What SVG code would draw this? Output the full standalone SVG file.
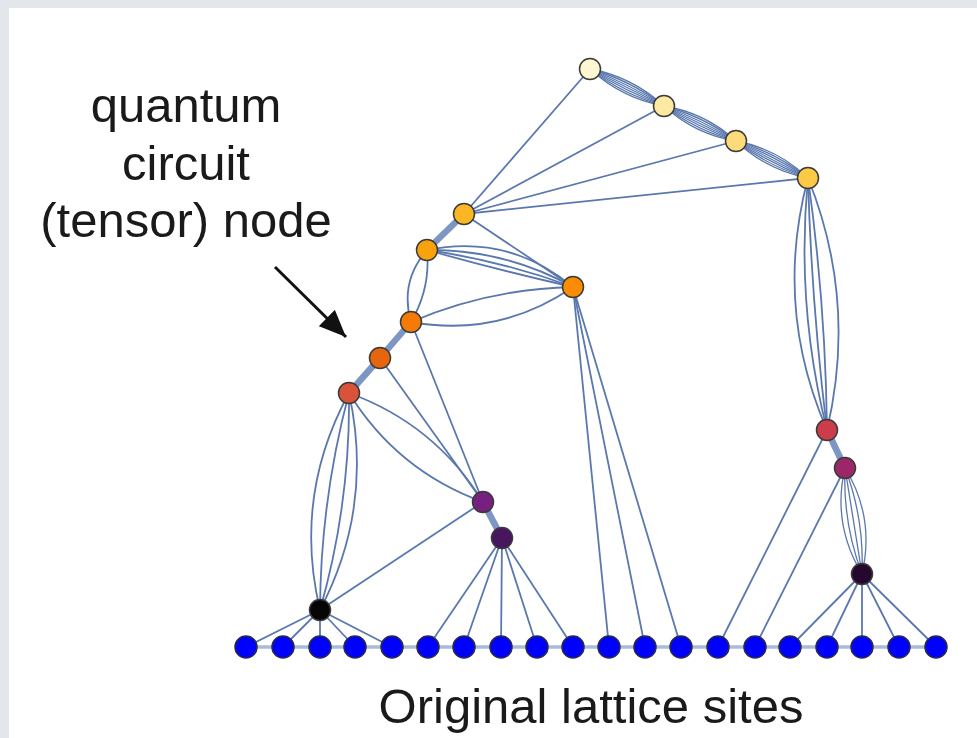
<svg xmlns="http://www.w3.org/2000/svg" width="977" height="738" viewBox="0 0 977 738">
<style>
.e{fill:none;stroke:#5a78ae;stroke-width:1.8}
.b{fill:none;stroke:#5a78ae;stroke-width:1.3}
.t{fill:none;stroke:#7d96c4;stroke-width:6.5;stroke-linecap:round}
.base{fill:none;stroke:#a9bbd8;stroke-width:3.5}
.n{stroke:#3a3a3a;stroke-width:1.5}
.s{fill:#0000ff;stroke:#2a2a4a;stroke-width:1.5}
.lbl{font-family:"Liberation Sans",Arial,sans-serif;font-size:49px;fill:#1a1a1a;text-anchor:middle}
</style>
<defs>
<marker id="ah" markerUnits="userSpaceOnUse" markerWidth="27" markerHeight="23" refX="27" refY="11.5" orient="auto">
<path d="M0,0 L27,11.5 L0,23 z" fill="#111"/>
</marker>
</defs>
<rect x="0" y="0" width="977" height="738" fill="#e3e6ea"/>
<rect x="9" y="8" width="968" height="730" fill="#ffffff"/>

<g id="connectors">
<line class="base" x1="246" y1="647" x2="936" y2="647"/>
<line class="t" x1="464" y1="214" x2="427" y2="250"/>
<line class="t" x1="411" y1="322" x2="380" y2="358"/>
<line class="t" x1="380" y1="358" x2="349" y2="393"/>
<line class="t" x1="483" y1="502" x2="502" y2="538"/>
<line class="t" x1="827" y1="430" x2="845" y2="468"/>
<path class="b" d="M590,69 Q621.6,98.2 664,106"/>
<path class="b" d="M590,69 Q623.4,94.7 664,106"/>
<path class="b" d="M590,69 Q625.2,91.1 664,106"/>
<path class="b" d="M590,69 L664,106"/>
<path class="b" d="M590,69 Q628.8,83.9 664,106"/>
<path class="b" d="M590,69 Q630.6,80.3 664,106"/>
<path class="b" d="M590,69 Q632.4,76.8 664,106"/>
<path class="b" d="M664,106 Q694.8,134.3 736,141"/>
<path class="b" d="M664,106 Q696.5,130.7 736,141"/>
<path class="b" d="M664,106 Q698.3,127.1 736,141"/>
<path class="b" d="M664,106 L736,141"/>
<path class="b" d="M664,106 Q701.7,119.9 736,141"/>
<path class="b" d="M664,106 Q703.5,116.3 736,141"/>
<path class="b" d="M664,106 Q705.2,112.7 736,141"/>
<path class="b" d="M736,141 Q766.5,170.2 808,178"/>
<path class="b" d="M736,141 Q768.3,166.6 808,178"/>
<path class="b" d="M736,141 Q770.2,163.1 808,178"/>
<path class="b" d="M736,141 L808,178"/>
<path class="b" d="M736,141 Q773.8,155.9 808,178"/>
<path class="b" d="M736,141 Q775.7,152.4 808,178"/>
<path class="b" d="M736,141 Q777.5,148.8 808,178"/>
<line class="e" x1="590" y1="69" x2="464" y2="214"/>
<line class="e" x1="664" y1="106" x2="464" y2="214"/>
<line class="e" x1="736" y1="141" x2="464" y2="214"/>
<line class="e" x1="808" y1="178" x2="464" y2="214"/>
<line class="e" x1="464" y1="214" x2="573" y2="287"/>
<path class="e" d="M427,250 Q508.9,233.6 573,287"/>
<path class="e" d="M427,250 Q504.9,249.1 573,287"/>
<path class="e" d="M427,250 Q502,260.7 573,287"/>
<path class="e" d="M427,250 Q499.5,270.4 573,287"/>
<path class="e" d="M427,250 Q399.5,281.7 411,322"/>
<path class="e" d="M427,250 Q430.7,288.6 411,322"/>
<path class="e" d="M411,322 Q488.6,288.9 573,287"/>
<path class="e" d="M411,322 Q499.2,337.8 573,287"/>
<line class="e" x1="573" y1="287" x2="609" y2="647"/>
<line class="e" x1="573" y1="287" x2="645" y2="647"/>
<line class="e" x1="573" y1="287" x2="681" y2="647"/>
<line class="e" x1="411" y1="322" x2="483" y2="502"/>
<line class="e" x1="380" y1="358" x2="483" y2="502"/>
<path class="e" d="M349,393 Q434.9,424.2 483,502"/>
<path class="e" d="M349,393 Q397.1,470.8 483,502"/>
<line class="e" x1="483" y1="502" x2="320" y2="610"/>
<path class="e" d="M349,393 Q292.9,496 320,610"/>
<path class="e" d="M349,393 Q320.6,499.7 320,610"/>
<path class="e" d="M349,393 Q350.4,503.6 320,610"/>
<path class="e" d="M349,393 Q374.1,506.8 320,610"/>
<line class="e" x1="320" y1="610" x2="246" y2="647"/>
<line class="e" x1="320" y1="610" x2="283" y2="647"/>
<line class="e" x1="320" y1="610" x2="320" y2="647"/>
<line class="e" x1="320" y1="610" x2="355" y2="647"/>
<line class="e" x1="320" y1="610" x2="392" y2="647"/>
<line class="e" x1="502" y1="538" x2="428" y2="647"/>
<line class="e" x1="502" y1="538" x2="464" y2="647"/>
<line class="e" x1="502" y1="538" x2="501" y2="647"/>
<line class="e" x1="502" y1="538" x2="537" y2="647"/>
<line class="e" x1="502" y1="538" x2="573" y2="647"/>
<path class="e" d="M808,178 Q773.6,307.3 827,430"/>
<path class="e" d="M808,178 Q795.6,305.7 827,430"/>
<path class="e" d="M808,178 Q811.5,304.5 827,430"/>
<path class="e" d="M808,178 Q825.5,303.4 827,430"/>
<path class="e" d="M808,178 Q857.4,301 827,430"/>
<line class="e" x1="827" y1="430" x2="718" y2="647"/>
<line class="e" x1="845" y1="468" x2="755" y2="647"/>
<path class="b" d="M845,468 Q831.8,524 862,574"/>
<path class="b" d="M845,468 Q842.6,522.3 862,574"/>
<path class="b" d="M845,468 L862,574"/>
<path class="b" d="M845,468 Q864.4,518.7 862,574"/>
<path class="b" d="M845,468 Q875.2,517 862,574"/>
<line class="e" x1="862" y1="574" x2="790" y2="647"/>
<line class="e" x1="862" y1="574" x2="827" y2="647"/>
<line class="e" x1="862" y1="574" x2="862" y2="647"/>
<line class="e" x1="862" y1="574" x2="899" y2="647"/>
<line class="e" x1="862" y1="574" x2="936" y2="647"/>
<line x1="275" y1="267" x2="346" y2="337" stroke="#111" stroke-width="3" marker-end="url(#ah)"/>
</g>

<g id="nA"><circle class="n" cx="590" cy="69" r="10.5" fill="#fff6d2"/></g>
<g id="nB"><circle class="n" cx="664" cy="106" r="10.5" fill="#fde9a2"/></g>
<g id="nC"><circle class="n" cx="736" cy="141" r="10.5" fill="#fddb78"/></g>
<g id="nD"><circle class="n" cx="808" cy="178" r="10.5" fill="#fcca46"/></g>
<g id="nE"><circle class="n" cx="464" cy="214" r="10.5" fill="#fbb623"/></g>
<g id="nF"><circle class="n" cx="427" cy="250" r="10.5" fill="#f9a20c"/></g>
<g id="nG"><circle class="n" cx="573" cy="287" r="10.5" fill="#f98c02"/></g>
<g id="nH"><circle class="n" cx="411" cy="322" r="10.5" fill="#f57a08"/></g>
<g id="nI"><circle class="n" cx="380" cy="358" r="10.5" fill="#e8650f"/></g>
<g id="nJ"><circle class="n" cx="349" cy="393" r="10.5" fill="#d9533a"/></g>
<g id="nK"><circle class="n" cx="483" cy="502" r="10.5" fill="#762082"/></g>
<g id="nL"><circle class="n" cx="502" cy="538" r="10.5" fill="#48165e"/></g>
<g id="nM"><circle class="n" cx="320" cy="610" r="10.5" fill="#050505"/></g>
<g id="nN"><circle class="n" cx="827" cy="430" r="10.5" fill="#cc3d4c"/></g>
<g id="nO"><circle class="n" cx="845" cy="468" r="10.5" fill="#9b2768"/></g>
<g id="nP"><circle class="n" cx="862" cy="574" r="10.5" fill="#24082e"/></g>

<g id="s0"><circle class="s" cx="246" cy="647" r="11"/></g>
<g id="s1"><circle class="s" cx="283" cy="647" r="11"/></g>
<g id="s2"><circle class="s" cx="320" cy="647" r="11"/></g>
<g id="s3"><circle class="s" cx="355" cy="647" r="11"/></g>
<g id="s4"><circle class="s" cx="392" cy="647" r="11"/></g>
<g id="s5"><circle class="s" cx="428" cy="647" r="11"/></g>
<g id="s6"><circle class="s" cx="464" cy="647" r="11"/></g>
<g id="s7"><circle class="s" cx="501" cy="647" r="11"/></g>
<g id="s8"><circle class="s" cx="537" cy="647" r="11"/></g>
<g id="s9"><circle class="s" cx="573" cy="647" r="11"/></g>
<g id="s10"><circle class="s" cx="609" cy="647" r="11"/></g>
<g id="s11"><circle class="s" cx="645" cy="647" r="11"/></g>
<g id="s12"><circle class="s" cx="681" cy="647" r="11"/></g>
<g id="s13"><circle class="s" cx="718" cy="647" r="11"/></g>
<g id="s14"><circle class="s" cx="755" cy="647" r="11"/></g>
<g id="s15"><circle class="s" cx="790" cy="647" r="11"/></g>
<g id="s16"><circle class="s" cx="827" cy="647" r="11"/></g>
<g id="s17"><circle class="s" cx="862" cy="647" r="11"/></g>
<g id="s18"><circle class="s" cx="899" cy="647" r="11"/></g>
<g id="s19"><circle class="s" cx="936" cy="647" r="11"/></g>

<g id="label-node">
<text class="lbl" x="186" y="122">quantum</text>
<text class="lbl" x="186" y="180">circuit</text>
<text class="lbl" x="186" y="237">(tensor) node</text>
</g>
<g id="label-sites">
<text class="lbl" x="591" y="723">Original lattice sites</text>
</g>
</svg>
